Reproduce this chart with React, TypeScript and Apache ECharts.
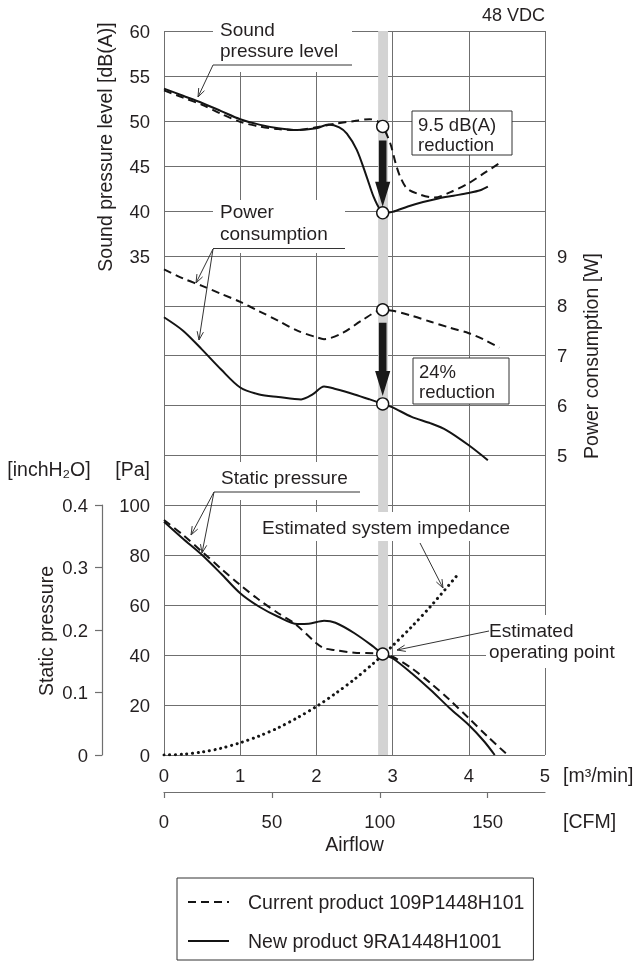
import React, { useEffect, useRef } from 'react';
import * as echarts from 'echarts';

// ---------- data ----------
const airflowM3Ticks = [0, 1, 2, 3, 4, 5];
const cfmTicks = [0, 50, 100, 150];
const M3MIN_TO_CFM = 35.3147;

const NAME_CURRENT = 'Current product 109P1448H101';
const NAME_NEW = 'New product 9RA1448H1001';

// Sound pressure level [dB(A)]
const soundCurrentX = [0, 0.25, 0.5, 0.75, 1, 1.25, 1.5, 1.75, 2, 2.25, 2.5, 2.7, 2.8, 2.87, 2.97, 3.04, 3.1, 3.19, 3.37, 3.55, 3.76, 4, 4.2, 4.4];
const soundCurrentY = [53.4, 52.6, 51.8, 50.8, 49.9, 49.4, 49.1, 49.0, 49.3, 49.7, 50.0, 50.2, 50.0, 49.4, 47.5, 45.3, 43.8, 42.5, 41.8, 41.5, 42.1, 43.1, 44.2, 45.3];
const soundNewX = [0, 0.25, 0.5, 0.75, 1, 1.25, 1.5, 1.75, 2, 2.16, 2.3, 2.4, 2.53, 2.66, 2.75, 2.84, 2.9, 3.0, 3.2, 3.4, 3.6, 3.8, 4.0, 4.15, 4.25];
const soundNewY = [53.6, 52.8, 52.0, 51.1, 50.2, 49.6, 49.2, 49.0, 49.2, 49.6, 49.3, 48.6, 46.8, 43.8, 41.6, 40.1, 39.8, 39.9, 40.5, 41.0, 41.4, 41.7, 42.0, 42.3, 42.7];

// Power consumption [W]
const powerCurrentX = [0, 0.25, 0.5, 0.75, 1, 1.25, 1.5, 1.75, 2.0, 2.1, 2.35, 2.6, 2.87, 3.0, 3.25, 3.5, 3.75, 4.0, 4.2, 4.4];
const powerCurrentY = [8.73, 8.55, 8.4, 8.24, 8.08, 7.89, 7.7, 7.5, 7.37, 7.33, 7.46, 7.71, 7.92, 7.9, 7.8, 7.68, 7.56, 7.45, 7.32, 7.16];
const powerNewX = [0, 0.25, 0.5, 0.75, 1, 1.25, 1.5, 1.8, 1.95, 2.1, 2.25, 2.5, 2.7, 2.87, 3.0, 3.25, 3.5, 3.71, 4.0, 4.25];
const powerNewY = [7.77, 7.5, 7.12, 6.72, 6.36, 6.22, 6.17, 6.12, 6.22, 6.38, 6.33, 6.22, 6.12, 6.03, 5.96, 5.77, 5.64, 5.5, 5.2, 4.9];

// Static pressure [Pa]
const pressureCurrentX = [0, 0.25, 0.5, 0.75, 1, 1.25, 1.5, 1.71, 2.0, 2.1, 2.24, 2.5, 2.75, 2.87, 3.0, 3.25, 3.5, 3.75, 4.0, 4.25, 4.51];
const pressureCurrentY = [94, 88, 81.3, 74.5, 68, 62, 56.7, 52.7, 44.7, 42.7, 42.0, 40.9, 40.7, 40.4, 39.3, 34.7, 28.7, 22, 14.7, 7.3, 0];
const pressureNewX = [0, 0.25, 0.5, 0.75, 1, 1.25, 1.5, 1.75, 1.9, 2.1, 2.25, 2.5, 2.75, 2.87, 3.0, 3.25, 3.5, 3.75, 4.0, 4.2, 4.34];
const pressureNewY = [93.3, 86.5, 80, 72.5, 64.7, 59.3, 55.3, 52.4, 52.5, 53.7, 52.9, 48.7, 43.3, 40.4, 38.7, 32.7, 26, 18.7, 12, 5.5, 0];
const impedanceX = [0, 0.25, 0.5, 0.75, 1, 1.25, 1.5, 1.75, 2, 2.25, 2.5, 2.75, 2.87, 3, 3.25, 3.5, 3.84];
const impedanceY = [0, 0.3, 1.2, 2.7, 4.9, 7.6, 10.9, 14.9, 19.4, 24.6, 30.3, 36.7, 40, 43.7, 51.3, 59.5, 71.6];

// operating point
const operatingX = 2.87;
const operatingBand = [2.81, 2.94];
const soundMarksY = [49.4, 39.8];
const powerMarksY = [7.92, 6.03];
const pressureMarkY = [40.4];

// ---------- styling ----------
const FONT = '"Liberation Sans", Arial, Helvetica, sans-serif';
const TXT = '#231f20';
const GRID = '#6f6f6f';
const INK = '#141414';
const TF = 18.5; // tick font
const LF = 19.5; // title font
const AF = 19; // annotation font

const zip = (xs: number[], ys: number[]) => xs.map((x, i) => [x, ys[i]]);

const gridLine = { show: true, lineStyle: { color: GRID, width: 1 } };
const tickLabel = { fontSize: TF, fontFamily: FONT, color: TXT };

function hiddenX(gi: number) {
  return {
    gridIndex: gi, type: 'value', min: 0, max: 5, interval: 1,
    axisLine: { show: false }, axisTick: { show: false }, axisLabel: { show: false },
    splitLine: gridLine,
  };
}

function lineSeries(name: string, gi: number, xs: number[], ys: number[], dashed: boolean) {
  return {
    name, type: 'line', xAxisIndex: gi, yAxisIndex: gi,
    data: zip(xs, ys), smooth: 0.3, symbol: 'none', z: 3,
    lineStyle: { color: INK, width: 2, type: dashed ? [8, 5] : 'solid' },
    itemStyle: { color: INK },
  };
}

function bandSeries(gi: number) {
  return {
    name: 'band' + gi, type: 'line', xAxisIndex: gi, yAxisIndex: gi, data: [], z: 1,
    symbol: 'none',
    markArea: {
      silent: true,
      itemStyle: { color: '#d3d3d3' },
      data: [[{ xAxis: operatingBand[0] }, { xAxis: operatingBand[1] }]],
    },
  };
}

function markerSeries(gi: number, ys: number[]) {
  return {
    name: 'marker' + gi, type: 'scatter', xAxisIndex: gi, yAxisIndex: gi,
    data: ys.map((y) => [operatingX, y]), symbolSize: 12, z: 10,
    itemStyle: { color: '#ffffff', borderColor: INK, borderWidth: 1.4, opacity: 1 },
  };
}

function buildOption() {
  return {
    animation: false,
    textStyle: { fontFamily: FONT },
    grid: [
      { left: 164, top: 31, width: 381, height: 225 },
      { left: 164, top: 256, width: 381, height: 249 },
      { left: 164, top: 505, width: 381, height: 250 },
    ],
    xAxis: [
      hiddenX(0),
      hiddenX(1),
      {
        gridIndex: 2, type: 'value', min: 0, max: 5, interval: 1,
        axisLine: { show: false }, axisTick: { show: false },
        axisLabel: { ...tickLabel, margin: 11, customValues: airflowM3Ticks },
        splitLine: gridLine,
      },
      {
        gridIndex: 2, type: 'value', position: 'bottom', offset: 37,
        min: 0, max: 5 * M3MIN_TO_CFM,
        axisLine: { show: true, onZero: false, lineStyle: { color: GRID, width: 1.2 } },
        axisTick: { show: true, length: 6, lineStyle: { color: GRID, width: 1.2 }, customValues: cfmTicks },
        axisLabel: { ...tickLabel, margin: 20, customValues: cfmTicks },
        splitLine: { show: false },
        name: 'Airflow', nameLocation: 'middle', nameGap: 42,
        nameTextStyle: { fontSize: LF, fontFamily: FONT, color: TXT },
      },
    ],
    yAxis: [
      {
        gridIndex: 0, type: 'value', min: 35, max: 60, interval: 5,
        axisLine: { show: false }, axisTick: { show: false },
        axisLabel: { ...tickLabel, margin: 14 }, splitLine: gridLine,
      },
      {
        gridIndex: 1, type: 'value', position: 'right', min: 4, max: 9, interval: 1,
        axisLine: { show: false }, axisTick: { show: false },
        axisLabel: { ...tickLabel, margin: 12, formatter: (v: number) => (v === 4 ? '' : String(v)) },
        splitLine: gridLine,
      },
      {
        gridIndex: 2, type: 'value', min: 0, max: 100, interval: 20,
        axisLine: { show: false }, axisTick: { show: false },
        axisLabel: { ...tickLabel, margin: 14 }, splitLine: gridLine,
      },
      {
        gridIndex: 2, type: 'value', position: 'left', offset: 62, min: 0, max: 0.4, interval: 0.1,
        axisLine: { show: true, onZero: false, lineStyle: { color: GRID, width: 1.2 } },
        axisTick: { show: true, length: 7, lineStyle: { color: GRID, width: 1.2 } },
        axisLabel: { ...tickLabel, margin: 14 }, splitLine: { show: false },
      },
    ],
    legend: {
      data: [NAME_CURRENT, NAME_NEW],
      orient: 'vertical', left: 177, top: 878,
      padding: [14, 9, 9, 10], itemGap: 19, itemWidth: 41, itemHeight: 20,
      borderColor: '#333', borderWidth: 1, backgroundColor: '#fff',
      itemStyle: { opacity: 0 },
      textStyle: { fontSize: LF, fontFamily: FONT, color: TXT, padding: [0, 0, 0, 14], lineHeight: 20 },
      selectedMode: false,
    },
    series: [
      bandSeries(0), bandSeries(1), bandSeries(2),
      lineSeries(NAME_CURRENT, 0, soundCurrentX, soundCurrentY, true),
      lineSeries(NAME_NEW, 0, soundNewX, soundNewY, false),
      lineSeries(NAME_CURRENT, 1, powerCurrentX, powerCurrentY, true),
      lineSeries(NAME_NEW, 1, powerNewX, powerNewY, false),
      lineSeries(NAME_CURRENT, 2, pressureCurrentX, pressureCurrentY, true),
      lineSeries(NAME_NEW, 2, pressureNewX, pressureNewY, false),
      {
        name: 'Estimated system impedance', type: 'line', xAxisIndex: 2, yAxisIndex: 2,
        data: zip(impedanceX, impedanceY), smooth: 0.3, symbol: 'none', z: 3,
        lineStyle: { color: INK, width: 3, type: [0.1, 5.6], cap: 'round' },
      },
      markerSeries(0, soundMarksY),
      markerSeries(1, powerMarksY),
      markerSeries(2, pressureMarkY),
    ],
  };
}

// ---------- annotation helpers ----------
function text(t: string, x: number, y: number, align = 'left', size = AF, rotation = 0) {
  return {
    type: 'text', x, y, rotation, z: 102,
    style: { text: t, fontSize: size, fontFamily: FONT, fill: TXT, align, verticalAlign: 'middle' },
  };
}
function whiteRect(x1: number, y1: number, x2: number, y2: number, stroke?: string) {
  return {
    type: 'rect', z: 100,
    shape: { x: x1, y: y1, width: x2 - x1, height: y2 - y1 },
    style: { fill: '#ffffff', stroke: stroke || null, lineWidth: stroke ? 1 : 0 },
  };
}
function seg(x1: number, y1: number, x2: number, y2: number) {
  return { type: 'line', z: 101, shape: { x1, y1, x2, y2 }, style: { stroke: '#333', lineWidth: 1 } };
}
function thinArrow(x1: number, y1: number, x2: number, y2: number) {
  const dx = x2 - x1, dy = y2 - y1;
  const len = Math.hypot(dx, dy);
  const ux = -dx / len, uy = -dy / len;
  const L = 9, a = 0.36;
  const rot = (ang: number) => [ux * Math.cos(ang) - uy * Math.sin(ang), ux * Math.sin(ang) + uy * Math.cos(ang)];
  const l = rot(a), r = rot(-a);
  return [
    seg(x1, y1, x2, y2),
    {
      type: 'polyline', z: 101,
      shape: { points: [[x2 + L * l[0], y2 + L * l[1]], [x2, y2], [x2 + L * r[0], y2 + L * r[1]]] },
      style: { stroke: '#333', lineWidth: 1, fill: null },
    },
  ];
}
function thickArrow(cx: number, yTop: number, yTip: number) {
  const sw = 3.8, hw = 7.6, hl = 25;
  return {
    type: 'polygon', z: 11,
    shape: {
      points: [
        [cx - sw, yTop], [cx + sw, yTop], [cx + sw, yTip - hl], [cx + hw, yTip - hl],
        [cx, yTip], [cx - hw, yTip - hl], [cx - sw, yTip - hl],
      ],
    },
    style: { fill: '#1a1a1a' },
  };
}

export default function App() {
  const ref = useRef<HTMLDivElement>(null);
  useEffect(() => {
    const chart = echarts.init(ref.current as HTMLDivElement, null, { renderer: 'svg' });
    chart.setOption(buildOption() as any);
    const px = (gi: number, x: number, y: number) =>
      chart.convertToPixel({ xAxisIndex: gi, yAxisIndex: gi } as any, [x, y]) as number[];

    const sU = px(0, operatingX, soundMarksY[0]);
    const sL = px(0, operatingX, soundMarksY[1]);
    const pU = px(1, operatingX, powerMarksY[0]);
    const pL = px(1, operatingX, powerMarksY[1]);

    const elements: any[] = [
      // axis titles / units
      text('48 VDC', 545, 15, 'right', 18),
      text('Sound pressure level [dB(A)]', 104.5, 147, 'center', LF, Math.PI / 2),
      text('Power consumption [W]', 591, 356, 'center', LF, Math.PI / 2),
      text('Static pressure', 46, 631, 'center', LF, Math.PI / 2),
      text('[inchH₂O]', 49, 469, 'center', LF),
      text('[Pa]', 150, 469, 'right', LF),
      text('[m³/min]', 563, 775, 'left', LF),
      text('[CFM]', 563, 821, 'left', LF),

      // Sound pressure level label
      whiteRect(213, 21, 352, 72),
      text('Sound', 220, 29.5),
      text('pressure level', 220, 50),
      seg(213, 65, 352, 65),
      ...thinArrow(213, 65, 198, 97),

      // Power consumption label
      whiteRect(213, 200, 345, 253),
      text('Power', 220, 211.5),
      text('consumption', 220, 233.5),
      seg(213, 248.5, 345, 248.5),
      ...thinArrow(213, 249, 196, 283),
      ...thinArrow(213, 249, 199, 340),

      // Static pressure label
      whiteRect(214, 462, 360, 500),
      text('Static pressure', 221, 477),
      seg(214, 492, 360, 492),
      ...thinArrow(214, 492, 191, 535),
      ...thinArrow(214, 492, 202, 553),

      // Estimated system impedance
      whiteRect(258, 512, 525, 541),
      text('Estimated system impedance', 262, 527),
      ...thinArrow(420, 543, 443, 588),

      // Estimated operating point
      whiteRect(486, 615, 630, 668),
      text('Estimated', 489, 630),
      text('operating point', 489, 651),
      ...thinArrow(489, 631, 397, 650),

      // reduction boxes
      whiteRect(412, 111, 512, 155, '#333'),
      text('9.5 dB(A)', 418, 124.5, 'left', 18.5),
      text('reduction', 418, 144.5, 'left', 18.5),
      whiteRect(413, 358, 509, 404, '#333'),
      text('24%', 419, 371, 'left', 18.5),
      text('reduction', 419, 391, 'left', 18.5),

      // big arrows
      thickArrow(sU[0], sU[1] + 14, sL[1] - 6),
      thickArrow(pU[0], pU[1] + 13, pL[1] - 8),
    ];
    chart.setOption({ graphic: { elements } } as any);
    return () => chart.dispose();
  }, []);
  return <div ref={ref} style={{ position: 'fixed', left: 0, top: 0, width: 638, height: 962 }} />;
}
